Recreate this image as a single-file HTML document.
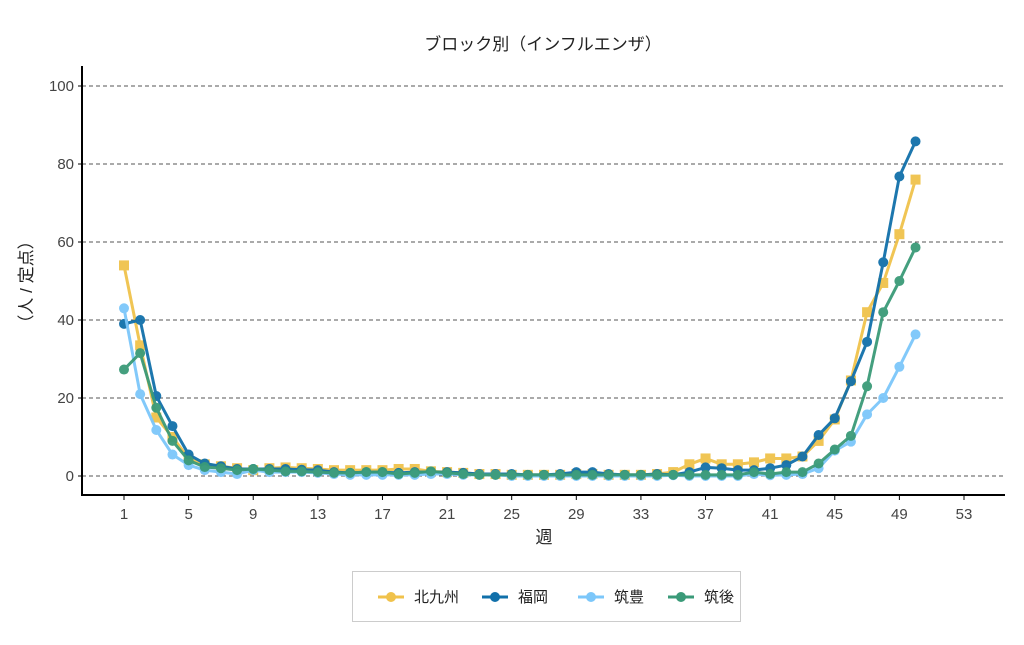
<!DOCTYPE html>
<html><head><meta charset="utf-8"><style>
body{margin:0;background:#fff;}
svg text{font-family:"Liberation Sans","Noto Sans CJK JP",sans-serif;}
</style></head><body>
<svg id="s" width="1024" height="640" xmlns="http://www.w3.org/2000/svg">
<rect width="1024" height="640" fill="#fff"/>
<text x="543" y="50" font-size="17" text-anchor="middle" fill="#222">ブロック別（インフルエンザ）</text>
<g id="grid"></g>
<line x1="82" y1="66" x2="82" y2="496" stroke="#000" stroke-width="2"/>
<line x1="81" y1="495" x2="1005" y2="495" stroke="#000" stroke-width="2"/>
<text transform="translate(32,282) rotate(-90)" font-size="17" text-anchor="middle" fill="#222">（人 / 定点）</text>
<text x="544" y="543" font-size="17" text-anchor="middle" fill="#222">週</text>
<g id="series"></g>
<rect x="352.5" y="571.5" width="388" height="50" fill="#fff" stroke="#ccc"/>
<g id="legend"></g>
</svg>
<script>
const NS="http://www.w3.org/2000/svg";
function el(t,a,p){const e=document.createElementNS(NS,t);for(const k in a)e.setAttribute(k,a[k]);p.appendChild(e);return e;}
const X=w=>124+(w-1)*(840/52), Y=v=>476-v*3.9;
const g=document.getElementById('grid');
for(let v=0;v<=100;v+=20){el('line',{x1:82,x2:1005,y1:Y(v),y2:Y(v),stroke:'#555','stroke-dasharray':'4,3','stroke-width':1},g);
 const t=el('text',{x:74,y:Y(v)+5,'font-size':15,'text-anchor':'end',fill:'#444'},g);t.textContent=v;
 el('line',{x1:78,x2:82,y1:Y(v),y2:Y(v),stroke:'#000'},g);}
for(let w=1;w<=53;w+=4){el('line',{x1:X(w),x2:X(w),y1:495,y2:500,stroke:'#000'},g);
 const t=el('text',{x:X(w),y:519,'font-size':15,'text-anchor':'middle',fill:'#444'},g);t.textContent=w;}
const D=[
['北九州','#f0c24b','sq',[54,33.5,15,10,4.5,3,2.5,2,1.5,2,2.2,2,1.8,1.5,1.5,1.5,1.5,1.8,1.8,1.2,1,0.8,0.5,0.5,0.3,0.3,0.3,0.3,0.5,0.5,0.3,0.3,0.3,0.5,1,3,4.5,3,3,3.5,4.5,4.5,5,9,14.5,24.5,42,49.5,62,76]],
['福岡','#1170aa','c',[39,40,20.5,12.8,5.5,3.2,2.5,1.8,1.8,1.8,1.8,1.6,1.5,1,0.8,1,1,0.8,1,1,1,0.8,0.5,0.5,0.5,0.3,0.3,0.5,1,1,0.5,0.3,0.3,0.5,0.3,1,2.2,2,1.5,1.5,2,2.8,5,10.5,14.8,24.3,34.4,54.8,76.8,85.8]],
['筑豊','#7cc7fa','c',[43,21,11.8,5.5,2.8,1.5,1,0.5,1.5,1,1,1,0.8,0.5,0.3,0.3,0.3,0.3,0.3,0.5,0.5,0.3,0.3,0.3,0,0,0,0,0,0,0,0,0,0,0.2,0,0,0,0,0.5,0.2,0.3,0.5,2,6.5,8.8,15.8,20,28,36.3]],
['筑後','#3a9a78','c',[27.3,31.5,17.5,9,4,2.3,2,1.5,1.8,1.5,1.2,1.2,1,0.8,0.8,1,1,0.5,0.8,1.2,0.8,0.5,0.3,0.3,0.3,0.3,0.3,0.3,0.3,0.3,0.3,0.3,0.3,0.3,0.3,0.3,0.3,0.3,0.3,1,0.5,1,1,3.2,6.8,10.3,23,42,50,58.6]]];
const sg=document.getElementById('series');
function mark(type,x,y,c,p){if(type==='sq')el('rect',{x:x-5,y:y-5,width:10,height:10,fill:c},p);else el('circle',{cx:x,cy:y,r:5,fill:c},p);}
D.forEach(([n,c,m,v])=>{const gg=el('g',{opacity:0.95},sg);
 el('polyline',{points:v.map((d,i)=>X(i+1)+','+Y(d)).join(' '),fill:'none',stroke:c,'stroke-width':3,'stroke-linejoin':'round'},gg);
 v.forEach((d,i)=>mark(m,X(i+1),Y(d),c,gg));});
const lg=document.getElementById('legend');
const lx=[378,482,578,668];
D.forEach(([n,c,m],i)=>{const x=lx[i];
 el('line',{x1:x,x2:x+26,y1:597,y2:597,stroke:c,'stroke-width':3},lg);mark('c',x+13,597,c,lg);
 const t=el('text',{x:x+36,y:602,'font-size':15,fill:'#222'},lg);t.textContent=n;});
</script>
</body></html>
